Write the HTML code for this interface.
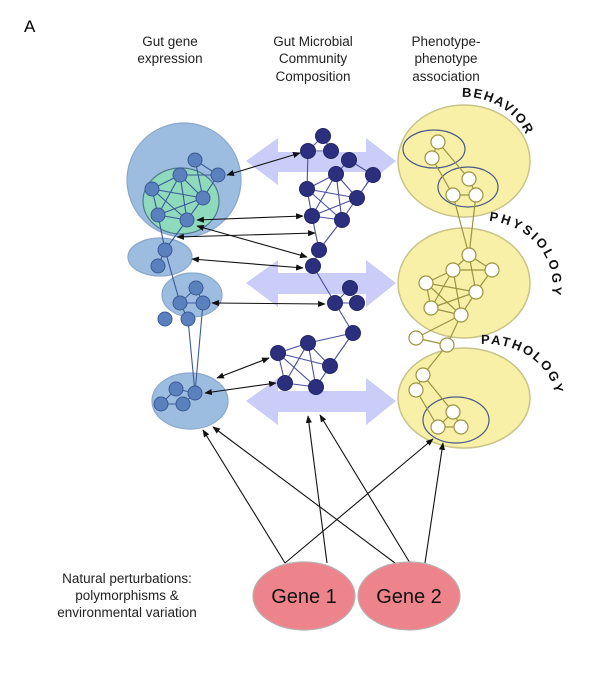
<!DOCTYPE html>
<html><head><meta charset="utf-8"><style>
body{margin:0;background:#fff;width:604px;height:678px;overflow:hidden}
svg{display:block;font-family:"Liberation Sans",Arial,sans-serif}
</style></head><body>
<svg width="604" height="678" viewBox="0 0 604 678" xmlns="http://www.w3.org/2000/svg">
<defs>
<marker id="ah" viewBox="0 0 10 10" refX="9" refY="5" markerWidth="7" markerHeight="7" orient="auto-start-reverse"><path d="M0,1 L10,5 L0,9 z" fill="#111"/></marker>
<path id="pb" d="M 462 97 A 68 64 0 0 1 532 165"/>
<path id="pp" d="M 489 221 A 70 64 0 0 1 532 330"/>
<path id="pt" d="M 481 344 A 70 56 0 0 1 534 440"/>
</defs>
<text x="24" y="32" font-size="17">A</text>
<g font-size="13.5" fill="#222" text-anchor="middle">
<text x="170" y="46">Gut gene</text><text x="170" y="63">expression</text>
<text x="313" y="46">Gut Microbial</text><text x="313" y="63">Community</text><text x="313" y="81">Composition</text>
<text x="446" y="46">Phenotype-</text><text x="446" y="63">phenotype</text><text x="446" y="81">association</text>
<text x="127" y="583">Natural perturbations:</text><text x="127" y="600">polymorphisms &amp;</text><text x="127" y="617">environmental variation</text>
</g>
<g fill="#c9cdf7">
<path d="M246,161 L278,138 L278,152 L366,152 L366,138 L396,161 L366,185 L366,172 L278,172 L278,185 z"/>
<path d="M246,283 L278,260 L278,273 L366,273 L366,260 L396,283 L366,307 L366,294 L278,294 L278,307 z"/>
<path d="M246,401 L278,378 L278,391 L366,391 L366,378 L396,401 L366,425 L366,412 L278,412 L278,425 z"/>
</g>
<g fill="#f7f0a6" stroke="#c9c48a" stroke-width="1.5">
<ellipse cx="464" cy="161" rx="66" ry="56"/>
<ellipse cx="464" cy="283" rx="66" ry="55"/>
<ellipse cx="464" cy="398" rx="66" ry="50"/>
</g>
<g fill="none" stroke="#4a5a8a" stroke-width="1.2">
<ellipse cx="434" cy="149" rx="31" ry="19"/>
<ellipse cx="468" cy="187" rx="30" ry="20"/>
<ellipse cx="456" cy="420" rx="33" ry="23"/>
</g>
<g font-size="13" font-weight="bold" fill="#111" letter-spacing="1.5">
<text><textPath href="#pb">BEHAVIOR</textPath></text>
<text><textPath href="#pp" letter-spacing="2.5">PHYSIOLOGY</textPath></text>
<text><textPath href="#pt" letter-spacing="2">PATHOLOGY</textPath></text>
</g>
<g stroke="#9c9444" stroke-width="1.2">
<line x1="438" y1="142" x2="432" y2="158"/><line x1="438" y1="142" x2="469" y2="179"/><line x1="432" y1="158" x2="453" y2="195"/>
<line x1="469" y1="179" x2="476" y2="195"/><line x1="453" y1="195" x2="476" y2="195"/>
<line x1="453" y1="195" x2="469" y2="255"/><line x1="476" y1="195" x2="469" y2="255"/>
<line x1="469" y1="255" x2="453" y2="270"/><line x1="469" y1="255" x2="492" y2="270"/><line x1="453" y1="270" x2="492" y2="270"/>
<line x1="469" y1="255" x2="476" y2="292"/><line x1="453" y1="270" x2="426" y2="283"/><line x1="453" y1="270" x2="431" y2="308"/>
<line x1="453" y1="270" x2="461" y2="315"/><line x1="492" y1="270" x2="476" y2="292"/><line x1="426" y1="283" x2="476" y2="292"/>
<line x1="426" y1="283" x2="431" y2="308"/><line x1="426" y1="283" x2="461" y2="315"/><line x1="476" y1="292" x2="461" y2="315"/>
<line x1="431" y1="308" x2="461" y2="315"/><line x1="431" y1="308" x2="476" y2="292"/>
<line x1="461" y1="315" x2="416" y2="338"/><line x1="461" y1="315" x2="447" y2="345"/><line x1="416" y1="338" x2="447" y2="345"/>
<line x1="447" y1="345" x2="423" y2="375"/><line x1="423" y1="375" x2="416" y2="390"/><line x1="423" y1="375" x2="453" y2="412"/>
<line x1="416" y1="390" x2="438" y2="427"/><line x1="453" y1="412" x2="438" y2="427"/><line x1="438" y1="427" x2="461" y2="427"/><line x1="453" y1="412" x2="461" y2="427"/>
</g>
<g fill="#fff" stroke="#9c9444" stroke-width="1.2">
<circle cx="438" cy="142" r="7"/><circle cx="432" cy="158" r="7"/><circle cx="469" cy="179" r="7"/><circle cx="453" cy="195" r="7"/><circle cx="476" cy="195" r="7"/>
<circle cx="469" cy="255" r="7"/><circle cx="453" cy="270" r="7"/><circle cx="492" cy="270" r="7"/><circle cx="426" cy="283" r="7"/><circle cx="476" cy="292" r="7"/><circle cx="431" cy="308" r="7"/><circle cx="461" cy="315" r="7"/>
<circle cx="416" cy="338" r="7"/><circle cx="447" cy="345" r="7"/>
<circle cx="423" cy="375" r="7"/><circle cx="416" cy="390" r="7"/><circle cx="453" cy="412" r="7"/><circle cx="438" cy="427" r="7"/><circle cx="461" cy="427" r="7"/>
</g>
<g fill="#9dbde0" stroke="#8aa8cc" stroke-width="1.2">
<circle cx="184" cy="180" r="57"/>
<ellipse cx="160" cy="257" rx="32" ry="19"/>
<ellipse cx="192" cy="295" rx="30" ry="22"/>
<ellipse cx="190" cy="401" rx="38" ry="28"/>
</g>
<ellipse cx="181" cy="201" rx="38" ry="33" fill="#8fd9bd" stroke="#4f7a8a" stroke-width="1.2"/>
<g stroke="#3b5a96" stroke-width="1.1">
<line x1="195" y1="160" x2="218" y2="175"/><line x1="180" y1="175" x2="218" y2="175"/><line x1="180" y1="175" x2="152" y2="189"/>
<line x1="180" y1="175" x2="203" y2="198"/><line x1="180" y1="175" x2="158" y2="215"/><line x1="180" y1="175" x2="187" y2="220"/>
<line x1="152" y1="189" x2="203" y2="198"/><line x1="152" y1="189" x2="158" y2="215"/><line x1="152" y1="189" x2="187" y2="220"/>
<line x1="203" y1="198" x2="187" y2="220"/><line x1="158" y1="215" x2="187" y2="220"/><line x1="203" y1="198" x2="218" y2="175"/>
<line x1="203" y1="198" x2="158" y2="215"/><line x1="195" y1="160" x2="203" y2="198"/>
<line x1="158" y1="215" x2="165" y2="250"/><line x1="187" y1="220" x2="165" y2="250"/><line x1="165" y1="250" x2="158" y2="266"/>
<line x1="165" y1="250" x2="180" y2="303"/><line x1="196" y1="288" x2="180" y2="303"/><line x1="196" y1="288" x2="203" y2="303"/>
<line x1="180" y1="303" x2="203" y2="303"/><line x1="180" y1="303" x2="188" y2="319"/>
<line x1="188" y1="319" x2="195" y2="393"/><line x1="203" y1="303" x2="195" y2="393"/>
<line x1="176" y1="389" x2="195" y2="393"/><line x1="176" y1="389" x2="161" y2="404"/><line x1="161" y1="404" x2="183" y2="404"/><line x1="195" y1="393" x2="183" y2="404"/>
</g>
<g fill="#5b80be" stroke="#3b5a96" stroke-width="1">
<circle cx="195" cy="160" r="7"/><circle cx="218" cy="175" r="7"/><circle cx="180" cy="175" r="7"/><circle cx="152" cy="189" r="7"/><circle cx="203" cy="198" r="7"/><circle cx="158" cy="215" r="7"/><circle cx="187" cy="220" r="7"/>
<circle cx="165" cy="250" r="7"/><circle cx="158" cy="266" r="7"/>
<circle cx="196" cy="288" r="7"/><circle cx="180" cy="303" r="7"/><circle cx="203" cy="303" r="7"/><circle cx="165" cy="319" r="7"/><circle cx="188" cy="319" r="7"/>
<circle cx="176" cy="389" r="7"/><circle cx="195" cy="393" r="7"/><circle cx="161" cy="404" r="7"/><circle cx="183" cy="404" r="7"/>
</g>
<g stroke="#4a4f9c" stroke-width="1.1">
<line x1="323" y1="136" x2="308" y2="151"/><line x1="323" y1="136" x2="331" y2="151"/><line x1="308" y1="151" x2="331" y2="151"/>
<line x1="308" y1="151" x2="307" y2="189"/><line x1="349" y1="160" x2="336" y2="174"/><line x1="349" y1="160" x2="373" y2="175"/>
<line x1="336" y1="174" x2="307" y2="189"/><line x1="336" y1="174" x2="357" y2="198"/><line x1="336" y1="174" x2="312" y2="216"/>
<line x1="336" y1="174" x2="342" y2="220"/><line x1="373" y1="175" x2="357" y2="198"/><line x1="307" y1="189" x2="357" y2="198"/>
<line x1="307" y1="189" x2="312" y2="216"/><line x1="307" y1="189" x2="342" y2="220"/><line x1="357" y1="198" x2="312" y2="216"/>
<line x1="357" y1="198" x2="342" y2="220"/><line x1="312" y1="216" x2="342" y2="220"/><line x1="312" y1="216" x2="319" y2="250"/>
<line x1="342" y1="220" x2="319" y2="250"/><line x1="319" y1="250" x2="313" y2="266"/><line x1="313" y1="266" x2="335" y2="303"/>
<line x1="350" y1="288" x2="335" y2="303"/><line x1="335" y1="303" x2="357" y2="303"/><line x1="335" y1="303" x2="353" y2="333"/>
<line x1="353" y1="333" x2="308" y2="343"/><line x1="353" y1="333" x2="330" y2="366"/><line x1="308" y1="343" x2="278" y2="353"/>
<line x1="308" y1="343" x2="285" y2="383"/><line x1="308" y1="343" x2="316" y2="387"/><line x1="278" y1="353" x2="330" y2="366"/>
<line x1="278" y1="353" x2="285" y2="383"/><line x1="278" y1="353" x2="316" y2="387"/><line x1="330" y1="366" x2="316" y2="387"/>
<line x1="285" y1="383" x2="316" y2="387"/><line x1="308" y1="343" x2="330" y2="366"/>
</g>
<g fill="#2b2f7e" stroke="#232766" stroke-width="1">
<circle cx="323" cy="136" r="7.5"/><circle cx="308" cy="151" r="7.5"/><circle cx="331" cy="151" r="7.5"/><circle cx="349" cy="160" r="7.5"/>
<circle cx="336" cy="174" r="7.5"/><circle cx="373" cy="175" r="7.5"/><circle cx="307" cy="189" r="7.5"/><circle cx="357" cy="198" r="7.5"/>
<circle cx="312" cy="216" r="7.5"/><circle cx="342" cy="220" r="7.5"/><circle cx="319" cy="250" r="7.5"/><circle cx="313" cy="266" r="7.5"/>
<circle cx="350" cy="288" r="7.5"/><circle cx="335" cy="303" r="7.5"/><circle cx="357" cy="303" r="7.5"/><circle cx="353" cy="333" r="7.5"/>
<circle cx="308" cy="343" r="7.5"/><circle cx="278" cy="353" r="7.5"/><circle cx="330" cy="366" r="7.5"/><circle cx="285" cy="383" r="7.5"/><circle cx="316" cy="387" r="7.5"/>
</g>
<g stroke="#111" stroke-width="1.1" marker-start="url(#ah)" marker-end="url(#ah)">
<line x1="227" y1="175" x2="300" y2="153"/>
<line x1="197" y1="220" x2="303" y2="216"/>
<line x1="177" y1="237" x2="315" y2="233"/>
<line x1="197" y1="226" x2="307" y2="257"/>
<line x1="192" y1="259" x2="303" y2="268"/>
<line x1="212" y1="303" x2="325" y2="304"/>
<line x1="217" y1="378" x2="269" y2="358"/>
<line x1="205" y1="393" x2="276" y2="383"/>
</g>
<g stroke="#111" stroke-width="1.1" marker-end="url(#ah)">
<line x1="285" y1="563" x2="203" y2="430"/>
<line x1="285" y1="563" x2="433" y2="439"/>
<line x1="327" y1="563" x2="308" y2="416"/>
<line x1="395" y1="563" x2="213" y2="427"/>
<line x1="410" y1="563" x2="320" y2="415"/>
<line x1="425" y1="563" x2="443" y2="443"/>
</g>
<g fill="#ee848b" stroke="#b8b0b0" stroke-width="1.2">
<ellipse cx="304" cy="596" rx="51" ry="34"/>
<ellipse cx="409" cy="596" rx="51" ry="34"/>
</g>
<g font-size="20" fill="#111" text-anchor="middle">
<text x="304" y="603">Gene 1</text><text x="409" y="603">Gene 2</text>
</g>
</svg>
</body></html>
